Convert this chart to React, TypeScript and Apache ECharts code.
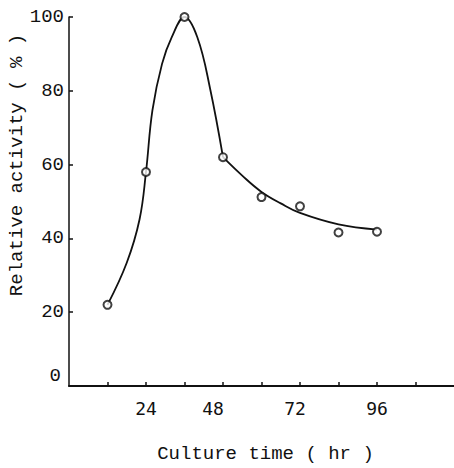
import React, { useEffect, useRef } from "react";
import * as echarts from "echarts";

const pointHours = [12, 24, 36, 48, 60, 72, 84, 96];
const pointActivity = [22, 58, 100, 62, 51.2, 48.7, 41.6, 41.8];

// fitted curve, rising part (12 → 48 hr)
const riseHours = [12, 18, 22, 24, 26, 29, 32, 36, 40, 44, 48];
const riseActivity = [22, 33.4, 45.2, 58, 74.7, 87.3, 94.5, 100, 94.5, 80.5, 62];
// fitted curve, decay part (48 → 96 hr)
const decayHours = [48, 54, 60, 66, 72, 84, 96];
const decayActivity = [62, 57, 52.6, 49.5, 46.9, 43.8, 42.4];

const xTickValues = [12, 24, 36, 48, 60, 72, 84, 96, 108];
const xLabelValues = [24, 48, 72, 96];
const yTickValues = [20, 40, 60, 80, 100];

const xTitle = "Culture time ( hr )";
const yTitle = "Relative activity ( % )";

const MONO = "'Liberation Mono', 'DejaVu Sans Mono', monospace";
const XMONO = "'DejaVu Sans Mono', monospace";

export default function App() {
  const ref = useRef<HTMLDivElement>(null);
  useEffect(() => {
    if (!ref.current) return;
    const chart = echarts.init(ref.current, undefined, { renderer: "svg" });
    const curveStyle = { color: "#111", width: 1.8 };
    chart.setOption({
      animation: false,
      backgroundColor: "#ffffff",
      grid: { left: 69, right: 0, top: 17, bottom: 72, containLabel: false },
      xAxis: {
        type: "value",
        min: 0,
        max: 120,
        interval: 12,
        name: xTitle,
        nameLocation: "middle",
        nameGap: 58,
        nameTextStyle: { fontFamily: MONO, fontSize: 19, color: "#111", padding: [0, 0, 0, 8] },
        axisLine: { show: true, lineStyle: { color: "#111", width: 2 } },
        axisTick: { show: true, inside: true, length: 4, customValues: xTickValues, lineStyle: { color: "#111", width: 1.5 } },
        axisLabel: {
          show: true,
          customValues: xLabelValues,
          margin: 13,
          fontFamily: XMONO,
          fontSize: 18,
          color: "#111",
          formatter: (v: number) => (v === 48 ? "{a|48}" : v === 72 ? "{b|72}" : String(v)),
          rich: {
            a: { fontFamily: XMONO, fontSize: 18, color: "#111", padding: [0, 20, 0, 0] },
            b: { fontFamily: XMONO, fontSize: 18, color: "#111", padding: [0, 10, 0, 0] },
          },
        },
        splitLine: { show: false },
      },
      yAxis: {
        type: "value",
        min: 0,
        max: 100,
        interval: 20,
        axisLine: { show: true, lineStyle: { color: "#111", width: 1.5 } },
        axisTick: { show: true, inside: true, length: 4, customValues: yTickValues, lineStyle: { color: "#111", width: 1.5 } },
        axisLabel: {
          show: true,
          margin: 5,
          fontFamily: MONO,
          fontSize: 19,
          color: "#111",
          formatter: (v: number) => (v === 0 ? "{z|0}" : String(v)),
          rich: {
            z: { fontFamily: MONO, fontSize: 19, color: "#111", padding: [0, 3, 20, 0] },
          },
        },
        splitLine: { show: false },
      },
      graphic: [
        {
          type: "text",
          x: 17,
          y: 165,
          rotation: Math.PI / 2,
          style: {
            text: yTitle,
            fontFamily: MONO,
            fontSize: 19,
            fill: "#111",
            align: "center",
            verticalAlign: "middle",
          },
        },
      ],
      series: [
        {
          type: "line",
          data: riseHours.map((h, i) => [h, riseActivity[i]]),
          smooth: 0.4,
          showSymbol: false,
          symbol: "none",
          lineStyle: curveStyle,
          z: 2,
        },
        {
          type: "line",
          data: decayHours.map((h, i) => [h, decayActivity[i]]),
          smooth: 0.4,
          showSymbol: false,
          symbol: "none",
          lineStyle: curveStyle,
          z: 2,
        },
        {
          type: "scatter",
          data: pointHours.map((h, i) => [h, pointActivity[i]]),
          symbol: "circle",
          symbolSize: 8,
          itemStyle: { color: "#ffffff", borderColor: "#111", borderWidth: 2 },
          z: 3,
        },
      ],
    });
    return () => chart.dispose();
  }, []);
  return <div ref={ref} style={{ position: "fixed", left: 0, top: 0, width: 454, height: 468 }} />;
}
